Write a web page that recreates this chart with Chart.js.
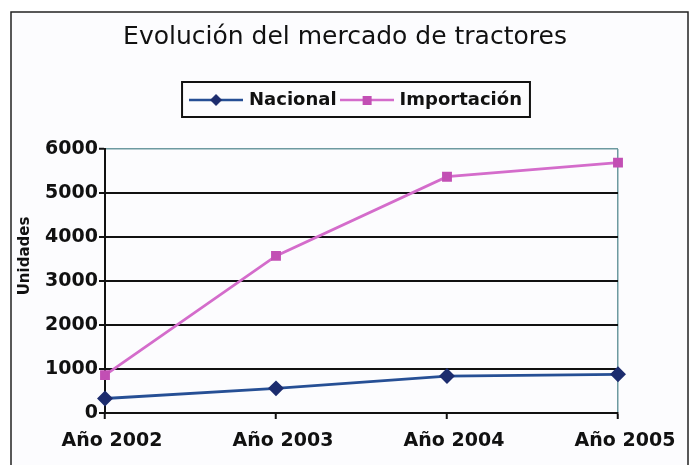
<!DOCTYPE html>
<html>
<head>
<meta charset="utf-8">
<script src="https://cdn.jsdelivr.net/npm/chart.js@4"></script>
<style>
  html, body { margin: 0; padding: 0; background: #fff; }
</style>
</head>
<body>
<canvas id="chart" width="693" height="465"></canvas>
<script>
const years = ['Año 2002', 'Año 2003', 'Año 2004', 'Año 2005'];
const nacional = [330, 560, 840, 880];
const importacion = [860, 3570, 5370, 5690];
const seriesNames = ['Nacional', 'Importación'];

const INK = '#111';
const FRAME = '#6d9aa0';
const NAC_LINE = '#264f95';
const NAC_MARK = '#1c2c6e';
const IMP_LINE = '#d46ccb';
const IMP_MARK = '#c24fb4';

// legend symbol: short line with the marker in the middle
function legendSymbol(lineColor, markColor, diamond) {
  const c = document.createElement('canvas');
  c.width = 54; c.height = 16;
  const g = c.getContext('2d');
  g.strokeStyle = lineColor;
  g.lineWidth = 2.5;
  g.beginPath(); g.moveTo(0, 8); g.lineTo(54, 8); g.stroke();
  g.fillStyle = markColor;
  if (diamond) {
    g.beginPath();
    g.moveTo(27, 2); g.lineTo(33, 8); g.lineTo(27, 14); g.lineTo(21, 8);
    g.closePath(); g.fill();
  } else {
    g.fillRect(23, 4, 9, 9);
  }
  return c;
}
const symbols = [legendSymbol(NAC_LINE, NAC_MARK, true), legendSymbol(IMP_LINE, IMP_MARK, false)];

const framePlugin = {
  id: 'framePlugin',
  beforeInit(chart) {
    // extra room under the legend
    const fit = chart.legend.fit;
    chart.legend.fit = function () {
      fit.call(this);
      this.height += 30;
    };
  },
  afterLayout(chart) {
    chart.legend.left += 12;
    chart.legend.right += 12;
  },
  beforeDraw(chart) {
    const ctx = chart.ctx;
    ctx.save();
    ctx.fillStyle = '#fcfcfe';
    ctx.fillRect(11, 12, 677, 460);
    ctx.strokeStyle = '#222';
    ctx.lineWidth = 1.5;
    ctx.strokeRect(11, 12, 677, 470);
    ctx.restore();
  },
  afterDraw(chart) {
    const ctx = chart.ctx;
    const hb = chart.legend.legendHitBoxes;
    ctx.save();
    // legend box
    if (hb && hb.length) {
      const first = hb[0], last = hb[hb.length - 1];
      const x0 = first.left - 10;
      const x1 = last.left + last.width + 8;
      const y0 = first.top - 9;
      const y1 = first.top + first.height + 8;
      ctx.strokeStyle = INK;
      ctx.lineWidth = 2;
      ctx.strokeRect(x0, y0, x1 - x0, y1 - y0);
    }
    // y axis title
    ctx.translate(25, 256);
    ctx.rotate(-Math.PI / 2);
    ctx.fillStyle = INK;
    ctx.font = 'bold 15px "DejaVu Sans"';
    ctx.textAlign = 'center';
    ctx.textBaseline = 'middle';
    ctx.fillText('Unidades', 0, 0);
    ctx.restore();
  }
};

new Chart(document.getElementById('chart'), {
  type: 'line',
  data: {
    labels: years,
    datasets: [
      {
        label: seriesNames[0],
        data: nacional,
        borderColor: NAC_LINE,
        backgroundColor: NAC_MARK,
        pointBackgroundColor: NAC_MARK,
        pointBorderColor: NAC_MARK,
        pointStyle: 'rectRot',
        pointRadius: 6,
        borderWidth: 2.8,
        tension: 0,
        clip: false
      },
      {
        label: seriesNames[1],
        data: importacion,
        borderColor: IMP_LINE,
        backgroundColor: IMP_MARK,
        pointBackgroundColor: IMP_MARK,
        pointBorderColor: IMP_MARK,
        pointStyle: 'rect',
        pointRadius: 5,
        borderWidth: 2.8,
        tension: 0,
        clip: false
      }
    ]
  },
  options: {
    responsive: false,
    animation: false,
    devicePixelRatio: 1,
    layout: { padding: { left: 0, right: 3, top: 0, bottom: 0 } },
    plugins: {
      title: {
        display: true,
        text: 'Evolución del mercado de tractores',
        color: INK,
        font: { family: '"DejaVu Sans"', size: 25, weight: 'normal' },
        padding: { top: 22, bottom: 33 }
      },
      legend: {
        display: true,
        labels: {
          color: INK,
          font: { family: '"DejaVu Sans"', size: 18, weight: 'bold' },
          usePointStyle: true,
          pointStyleWidth: 48,
          boxHeight: 18,
          padding: 6,
          generateLabels(chart) {
            const items = Chart.defaults.plugins.legend.labels.generateLabels(chart);
            items.forEach((it, i) => { it.pointStyle = symbols[i]; });
            return items;
          }
        }
      },
      tooltip: { enabled: false }
    },
    scales: {
      x: {
        grid: {
          color: c => (c.index === years.length - 1 ? FRAME : 'rgba(0,0,0,0)'),
          lineWidth: 1.5,
          tickColor: INK,
          tickWidth: 2,
          tickLength: 6
        },
        border: { color: INK, width: 2 },
        ticks: {
          color: INK,
          padding: 11,
          labelOffset: 7,
          maxRotation: 0,
          font: { family: '"DejaVu Sans"', size: 19, weight: 'bold' }
        },
        afterFit(scale) {
          scale.height = 52;
          scale.paddingRight = 75;
        }
      },
      y: {
        min: 0,
        max: 6000,
        grid: {
          color: c => (c.tick && c.tick.value === 6000 ? FRAME : INK),
          lineWidth: c => (c.tick && c.tick.value === 6000 ? 1.5 : 2),
          tickColor: INK,
          tickWidth: 2,
          tickLength: 6
        },
        border: { color: INK, width: 2 },
        ticks: {
          stepSize: 1000,
          color: INK,
          padding: 1,
          font: { family: '"DejaVu Sans"', size: 19, weight: 'bold' },
          callback: v => String(v)
        },
        afterFit(scale) {
          scale.width = 105;
        }
      }
    }
  },
  plugins: [framePlugin]
});
</script>
</body>
</html>
